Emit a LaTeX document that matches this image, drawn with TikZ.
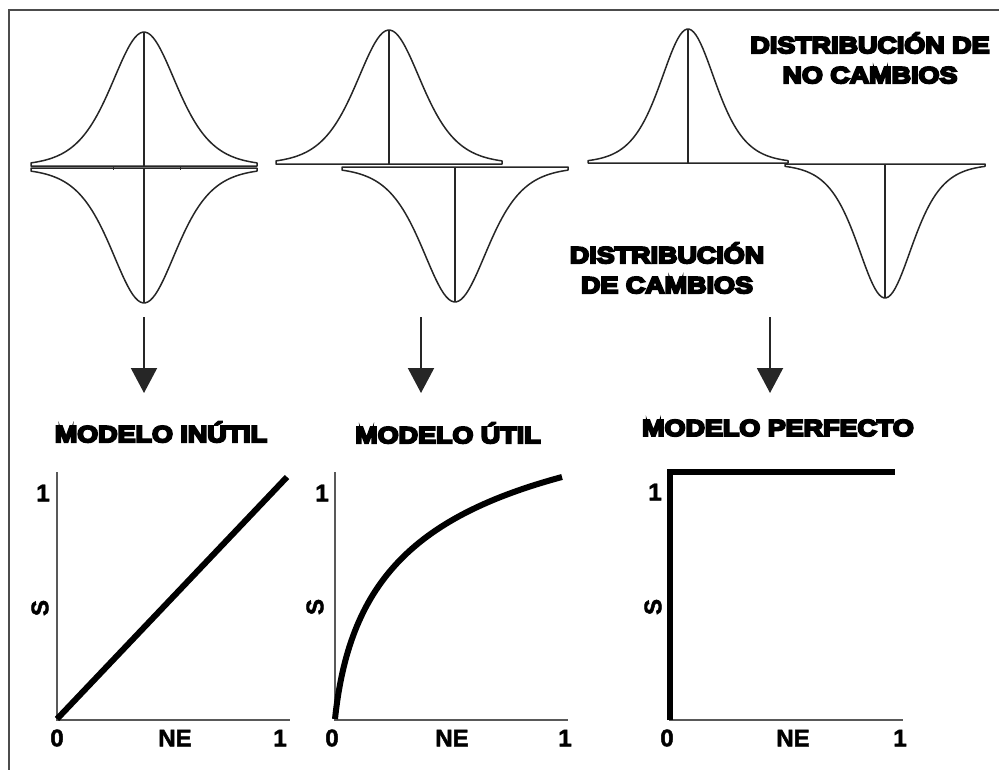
\documentclass[tikz,border=0pt]{standalone}
\usepackage{fontspec}
\setmainfont{Liberation Sans}
\newfontfamily\negrafont[FakeBold=9,FakeStretch=1.17]{Liberation Sans Bold}
\newfontfamily\etiqfont[FakeBold=2]{Liberation Sans Bold}
\usepackage{tikz}
\usetikzlibrary{arrows.meta}
\tikzset{
  marco/.style  = {line width=2pt, draw=black!70},
  dist/.style   = {line width=1.5pt, draw=black!85, line join=round},
  eje/.style    = {line width=2pt, draw=black!65},
  curva/.style  = {line width=6pt, draw=black},
  flecha/.style = {-{Triangle[width=26pt,length=25pt]}, line width=2pt, draw=black!85},
  titulo/.style = {font=\negrafont\fontsize{23}{30}\selectfont, align=center, inner sep=0pt},
  etiq/.style   = {font=\etiqfont\fontsize{24}{24}\selectfont, inner sep=0pt}
}

\begin{document}
\begin{tikzpicture}[x=1pt,y=-1pt]
  \useasboundingbox (0,0) rectangle (999,769);
  \clip (0,0) rectangle (999,769);
  \draw[marco] (9,10) rectangle (1012,785);

  % distribuciones (arriba: no cambios, abajo: cambios)
  \foreach \cx/\by/\amp/\w/\s in {144/166/134/113/44, 144/168/-135/113/44,
                                  389/164/134/113/44, 455/167/-135/113/44,
                                  688/163/134/100/37, 885/164/-134/100/37}{
    \draw[dist] (\cx-\w,\by) -- plot[domain=-\w:\w, samples=90]
      ({\cx+\x},{\by-(\amp)*4/(exp(\x/\s)+exp(-\x/\s))^2}) -- (\cx+\w,\by) -- cycle;
    \draw[dist] (\cx,\by) -- (\cx,\by-\amp);
  }
  \draw[dist, line width=1pt] (113,167) -- (113,170) (180,167) -- (180,170);

  \node[titulo] (nocamb) at (870,58)  {DISTRIBUCIÓN DE\\NO CAMBIOS};
  \node[titulo] (camb)   at (667,268) {DISTRIBUCIÓN\\DE CAMBIOS};

  % flechas
  \coordinate (a1) at (144,317); \coordinate (b1) at (144,393);
  \coordinate (a2) at (421,317); \coordinate (b2) at (421,393);
  \coordinate (a3) at (770,317); \coordinate (b3) at (770,393);
  \draw[flecha] (a1) -- (b1); \draw[flecha] (a2) -- (b2); \draw[flecha] (a3) -- (b3);

  \node[titulo] (inutil)   at (161,432) {MODELO INÚTIL};
  \node[titulo] (util)     at (448,433) {MODELO ÚTIL};
  \node[titulo] (perfecto) at (778,428) {MODELO PERFECTO};

  % modelo inutil
  \draw[eje] (57,472) -- (57,720) -- (290,720);
  \draw[curva] (57,719) -- (287,477);
  \node[etiq] (uno1)  at (43,493)  {1};
  \node[etiq, rotate=90] (s1) at (40,608) {S};
  \node[etiq] (cero1) at (57,738)  {0};
  \node[etiq] (ne1)   at (175,738) {NE};
  \node[etiq] (fin1)  at (280,738) {1};

  % modelo util
  \draw[eje] (335,472) -- (335,720) -- (568,720);
  \draw[curva] (335,719) .. controls (349,586) and (410,518) .. (562,477);
  \node[etiq] (uno2)  at (322,493) {1};
  \node[etiq, rotate=90] (s2) at (315,607) {S};
  \node[etiq] (cero2) at (332,738) {0};
  \node[etiq] (ne2)   at (452,738) {NE};
  \node[etiq] (fin2)  at (565,738) {1};

  % modelo perfecto
  \draw[eje] (670,472) -- (670,720) -- (903,720);
  \draw[curva] (670,720) -- (670,472) -- (895,472);
  \node[etiq] (uno3)  at (655,492) {1};
  \node[etiq, rotate=90] (s3) at (653,607) {S};
  \node[etiq] (cero3) at (667,738) {0};
  \node[etiq] (ne3)   at (793,738) {NE};
  \node[etiq] (fin3)  at (900,738) {1};
\end{tikzpicture}
\end{document}
